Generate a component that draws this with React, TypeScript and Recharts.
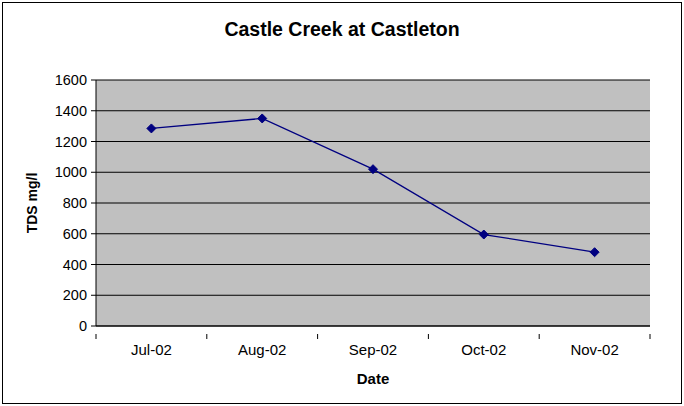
import { LineChart, Line, XAxis, YAxis, CartesianGrid } from 'recharts'

const months = ['Jul-02', 'Aug-02', 'Sep-02', 'Oct-02', 'Nov-02']
const tds = [1285, 1350, 1020, 595, 480]
const yTicks = [0, 200, 400, 600, 800, 1000, 1200, 1400, 1600]

const data = months.map((m, i) => ({ month: m, tds: tds[i] }))

const FONT = '"Liberation Sans", Arial, sans-serif'
const HALF_BAND = 55.4

function Diamond(props: any) {
  const { cx, cy } = props
  if (cx == null || cy == null) return null
  const r = 4.5
  return (
    <polygon
      points={`${cx},${cy - r} ${cx + r},${cy} ${cx},${cy + r} ${cx - r},${cy}`}
      fill="#000080"
      stroke="#000080"
    />
  )
}

function MonthTick(props: any) {
  const { x, y, payload, index } = props
  return (
    <g>
      <line x1={x - HALF_BAND} y1={y} x2={x - HALF_BAND} y2={y + 5} stroke="#000" />
      {index === months.length - 1 && (
        <line x1={x + HALF_BAND} y1={y} x2={x + HALF_BAND} y2={y + 5} stroke="#000" />
      )}
      <text x={x} y={y + 21} textAnchor="middle" fontSize={15} fontFamily={FONT} fill="#000">
        {payload.value}
      </text>
    </g>
  )
}

export default function App() {
  return (
    <div style={{ position: 'absolute', left: 0, top: 0, width: 684, height: 406, background: '#fff' }}>
      <div
        style={{
          position: 'absolute',
          left: 2,
          top: 2,
          width: 678,
          height: 400,
          border: '1px solid #000',
        }}
      />
      <div
        style={{
          position: 'absolute',
          left: 0,
          top: 18,
          width: 684,
          textAlign: 'center',
          fontFamily: FONT,
          fontWeight: 'bold',
          fontSize: 19.5,
        }}
      >
        Castle Creek at Castleton
      </div>
      <div style={{ position: 'absolute', left: 0, top: 0 }}>
        <LineChart
          width={684}
          height={406}
          data={data}
          margin={{ top: 80, right: 34, bottom: 20, left: 40 }}
        >
          <CartesianGrid
            vertical={false}
            stroke="#000"
            fill="#C0C0C0"
            strokeOpacity={1}
          />
          <XAxis
            dataKey="month"
            height={60}
            padding={{ left: HALF_BAND, right: HALF_BAND }}
            tickLine={false}
            axisLine={{ stroke: '#000' }}
            tick={<MonthTick />}
            interval={0}
            label={{
              value: 'Date',
              position: 'insideBottom',
              offset: 2,
              style: { fontFamily: FONT, fontWeight: 'bold', fontSize: 15, fill: '#000' },
            }}
          />
          <YAxis
            width={56}
            domain={[0, 1600]}
            ticks={yTicks}
            interval={0}
            tickSize={5}
            tickMargin={4}
            tickLine={{ stroke: '#000' }}
            axisLine={{ stroke: '#000' }}
            tick={{ fontSize: 14.5, fontFamily: FONT, fill: '#000' }}
            label={{
              value: 'TDS mg/l',
              angle: -90,
              position: 'insideLeft',
              offset: -8,
              style: {
                fontFamily: FONT,
                fontWeight: 'bold',
                fontSize: 14,
                fill: '#000',
                textAnchor: 'middle',
              },
            }}
          />
          <YAxis
            yAxisId="edge"
            orientation="right"
            width={0}
            domain={[0, 1600]}
            tick={false}
            tickLine={false}
            axisLine={{ stroke: '#808080', strokeWidth: 2 }}
          />
          <Line
            type="linear"
            dataKey="tds"
            stroke="#000080"
            strokeWidth={1.3}
            dot={<Diamond />}
            activeDot={false}
            isAnimationActive={false}
          />
        </LineChart>
      </div>
    </div>
  )
}
